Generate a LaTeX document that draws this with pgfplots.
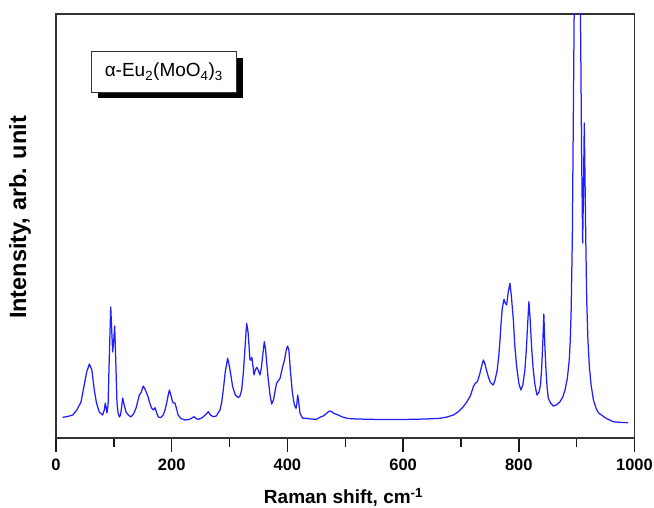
\documentclass[border=0pt]{standalone}
\usepackage{fontspec}
\setmainfont{Liberation Sans}
\usepackage{pgfplots}
\pgfplotsset{compat=1.18}
\begin{document}
\begin{tikzpicture}
\begin{axis}[
  at={(0pt,0pt)}, anchor=south west,
  scale only axis, width=578.5pt, height=424pt,
  xmin=0, xmax=1000, ymin=2, ymax=426,
  xtick={0,200,400,600,800,1000},
  minor x tick num=1,
  xtick pos=bottom,
  ytick=\empty,
  tick align=outside,
  major tick length=14pt, minor tick length=9pt,
  tick style={black!90, line width=1.4pt},
  axis line style={black!80, line width=1.3pt},
  /pgf/number format/assume math mode=true,
  /pgf/number format/1000 sep={},
  xticklabel style={font=\fontsize{16.5}{16.5}\selectfont\bfseries, yshift=-3pt},
  xlabel={Raman shift, cm\textsuperscript{-1}},
  ylabel={Intensity, arb. unit},
  xlabel style={font=\fontsize{19}{19}\selectfont\bfseries, at={(axis description cs:0.497,-0.155)}, anchor=base},
  ylabel style={font=\fontsize{23.5}{23.5}\selectfont\bfseries, at={(axis description cs:-0.062,0.52)}, anchor=center},
  clip mode=individual,
]
\addplot[color={rgb,255:red,30;green,30;blue,255}, line width=1.25pt, line join=round] coordinates {
(11.5,22.7)(20,23.5)(28.9,25)(36,30)(43.2,38)(48.8,55)(53,68)(57.7,76)(62,70)(66.2,50)(70,37)(74.7,28)(80.6,25)(83.5,30)(85.2,37)(86.8,32)(88.1,27)(90,35)(92,80)(94.6,133)(96.3,110)(98.0,88)(99.8,100)(101.4,114)(103.3,80)(105.4,37)(107.3,27)(109.5,23)(111.5,25)(113.5,33)(115.2,42)(117.5,36)(121.0,28)(125,25)(129.4,23)(134,26)(138.4,32)(141,38)(144.1,45)(147.5,48)(150.9,54)(154.5,50)(159.3,43)(162,37)(165.3,32)(168.3,30)(171.3,32.3)(173.5,28)(176.8,23)(181,22.5)(185.2,25)(188,29)(191.2,36.7)(194,45)(196.0,50)(198.5,45)(201.6,38)(203.5,37)(205.7,37)(208,32)(211.1,25)(216,21.5)(223.0,20)(230,20.5)(235,22)(238.6,23.3)(242,21.5)(245.9,20.7)(252,22)(258,25)(263.4,28.3)(267,25)(271.8,23.3)(277,24)(283.5,30)(286.5,38)(289.2,50)(292.5,68)(296.7,81.7)(300,73)(305.4,53.3)(310,45)(315.1,42.3)(318,44)(320.9,50)(324,68)(327,95)(329.6,116.7)(332,108)(335.3,80)(337,80)(338.5,82.7)(340.5,74)(342.3,65)(344.5,70)(346.9,72.7)(349.5,70)(352.5,65)(355,72)(358,88)(360.1,98.3)(362.4,90)(364.5,75)(367.0,60)(370,45)(372.8,36)(376,40)(379,50)(381.3,56.7)(384,59)(387.3,61.7)(391.8,73.3)(395,80)(398,90)(400.3,94)(402.5,90)(405.6,66.7)(408.5,48)(412.0,35)(414.9,31.7)(416.5,37)(417.8,45)(419.5,38)(421.8,26.7)(425,23)(427.1,21.7)(433.1,21.7)(440,21)(450.5,20.7)(456.0,22.7)(462,24)(468.0,26.7)(471,28.5)(473.6,29)(477,28)(481,26.5)(487.9,25)(495,23)(505,21.5)(520,21)(560,20.5)(600,20.5)(640,21)(663.8,21.7)(676,23)(687.0,25)(696,28.5)(704.0,33.3)(710,38)(715.6,43.3)(718.5,48)(721.4,53.3)(724.5,56.5)(728.3,58.3)(730.5,62)(732.8,66.7)(735.8,74)(738.8,80)(741.5,76)(744,70)(747.3,63.3)(751,57.5)(755.7,55)(759,60)(762.7,70)(765.5,85)(767.5,100)(769.3,116.7)(771.5,132)(774.4,140.7)(776.5,137)(779.0,135)(781.5,147)(784.6,156.7)(787,145)(790.6,120)(793,95)(796.3,73.3)(800,57)(803.5,50)(807,55)(810.5,70)(813,90)(815.5,118)(817.5,138.3)(819.5,122)(822.4,90)(825,70)(828,55)(831.4,45)(835,48)(837.5,55)(839.4,70)(841.3,95)(843.3,126)(845,95)(847.0,70)(849,52)(851.0,41.7)(855,37)(859.7,34)(865,35)(871.2,38.3)(876,43)(879.9,50)(884,62)(887.2,80)(889,100)(890.5,130)(892.5,200)(894.5,340)(897,520)(901,620)(905,520)(907,400)(908.5,290)(910.4,197)(911.8,250)(913.2,317)(914.5,260)(915.8,200)(917.4,140)(919.5,100)(922,73)(925,55)(929,40)(934,31)(938,27)(950,22)(963,18.3)(976,17.6)(989,17.3)
};
\end{axis}
% label box with shadow
\fill[black] (41.5pt,339.5pt) rectangle (187pt,380pt);
\draw[fill=white, draw=black!80, line width=0.6pt] (35pt,345.7pt) rectangle (180.7pt,386.3pt);
\node[anchor=center, inner sep=0pt, font=\fontsize{19}{19}\selectfont] at (107.8pt,366pt) {α-Eu\textsubscript{2}(MoO\textsubscript{4})\textsubscript{3}};
\pgfresetboundingbox
\useasboundingbox (-56pt,-69pt) rectangle (598pt,438pt);
\end{tikzpicture}
\end{document}
